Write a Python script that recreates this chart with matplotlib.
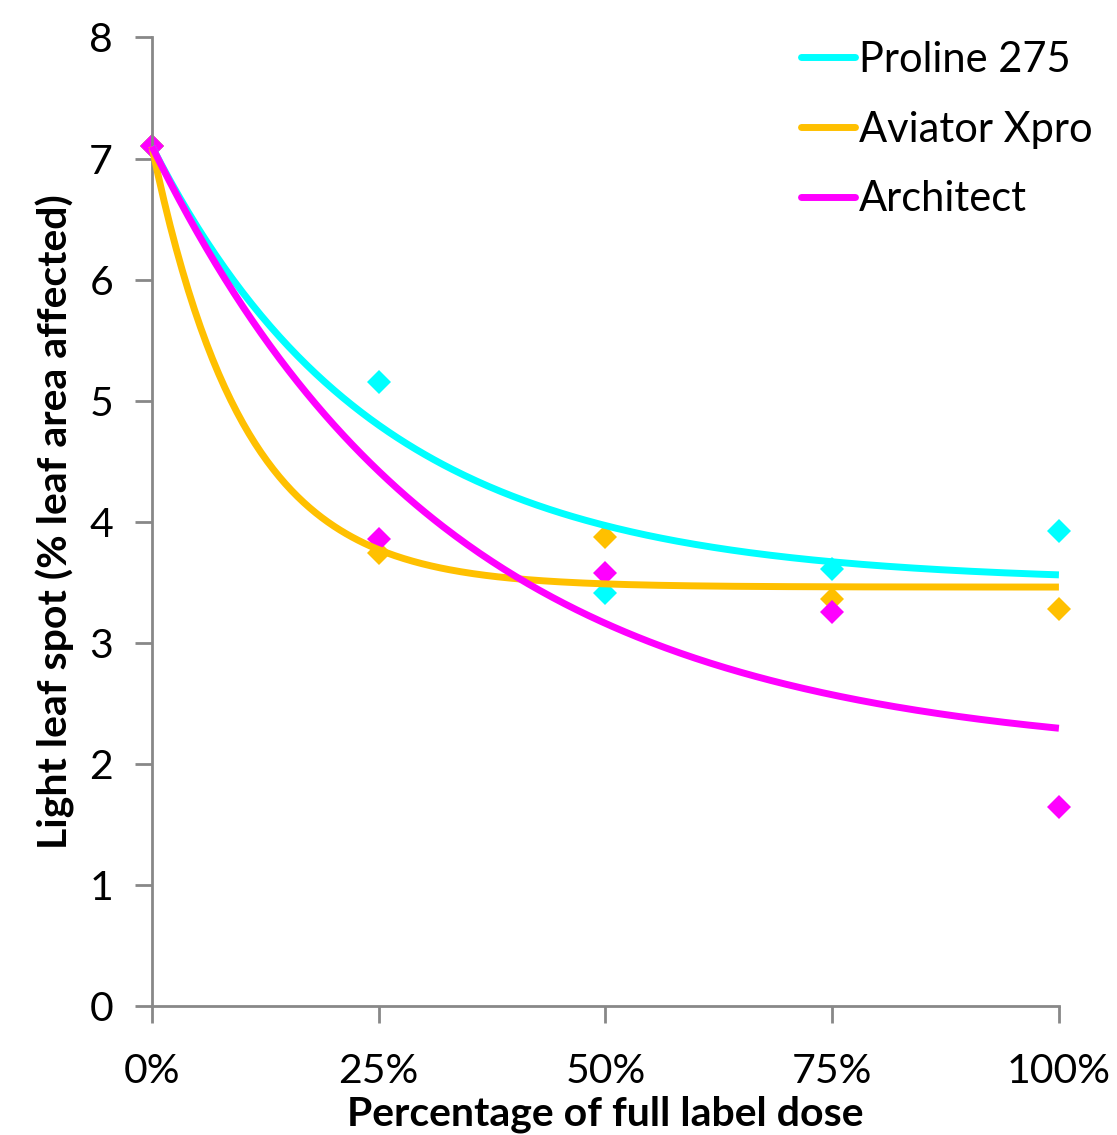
import numpy as np
import matplotlib
matplotlib.use("Agg")
import matplotlib.pyplot as plt
from matplotlib.ticker import FuncFormatter

plt.rcParams['font.family'] = ['Lato', 'DejaVu Sans']

# Dose fractions (of full label dose)
doses = [0.0, 0.25, 0.50, 0.75, 1.00]
series_names = ["Proline 275", "Aviator Xpro", "Architect"]
colors = ["#00FFFF", "#FFC000", "#FF00FF"]

proline = [7.10, 5.15, 3.41, 3.61, 3.92]
aviator = [7.10, 3.74, 3.87, 3.36, 3.28]
architect = [7.10, 3.86, 3.58, 3.25, 1.64]

# Exponential trendline parameters (asymptote, amplitude, rate per unit dose)
trend_asym = [3.50, 3.46, 2.05]
trend_amp = [3.60, 3.64, 5.05]
trend_rate = [4.08, 9.86, 3.03]

values = [proline, aviator, architect]

fig = plt.figure(figsize=(11.17, 11.35), dpi=100)
ax = fig.add_axes([0.136, 0.1137, 0.812, 0.8533])

xs = np.linspace(0, 1, 300)
for name, col, vals, a, b, k in zip(series_names, colors, values, trend_asym, trend_amp, trend_rate):
    ax.plot(doses, vals, linestyle='none', marker='D', markersize=12, color=col,
            markeredgewidth=0, zorder=2, clip_on=False)
    ax.plot(xs, a + b * np.exp(-k * xs), color=col, linewidth=5, label=name,
            solid_capstyle='butt', zorder=3, clip_on=False)

ax.set_xlim(0, 1)
ax.set_ylim(0, 8)
ax.set_xticks(doses)
ax.xaxis.set_major_formatter(FuncFormatter(lambda v, p: f"{int(round(v*100))}%"))
ax.set_yticks(range(0, 9))

for s in ['top', 'right']:
    ax.spines[s].set_visible(False)
for s in ['left', 'bottom']:
    ax.spines[s].set_color('#888888')
    ax.spines[s].set_linewidth(2)
ax.tick_params(axis='both', direction='out', length=12, width=2, color='#888888',
               labelsize=29.5, labelcolor='black')
ax.tick_params(axis='x', pad=22)
ax.tick_params(axis='y', pad=16)

ax.set_xlabel("Percentage of full label dose", fontsize=29.5, fontweight='bold', labelpad=4)
ax.set_ylabel("Light leaf spot (% leaf area affected)", fontsize=29.5, fontweight='bold', labelpad=10)

leg = ax.legend(loc='upper right', bbox_to_anchor=(1.078, 1.035), frameon=False, fontsize=30,
                handlelength=1.3, handletextpad=0.08, labelspacing=0.76)
for line in leg.get_lines():
    line.set_solid_capstyle('round')
    line.set_linewidth(5)

fig.savefig("out.png", dpi=100)
